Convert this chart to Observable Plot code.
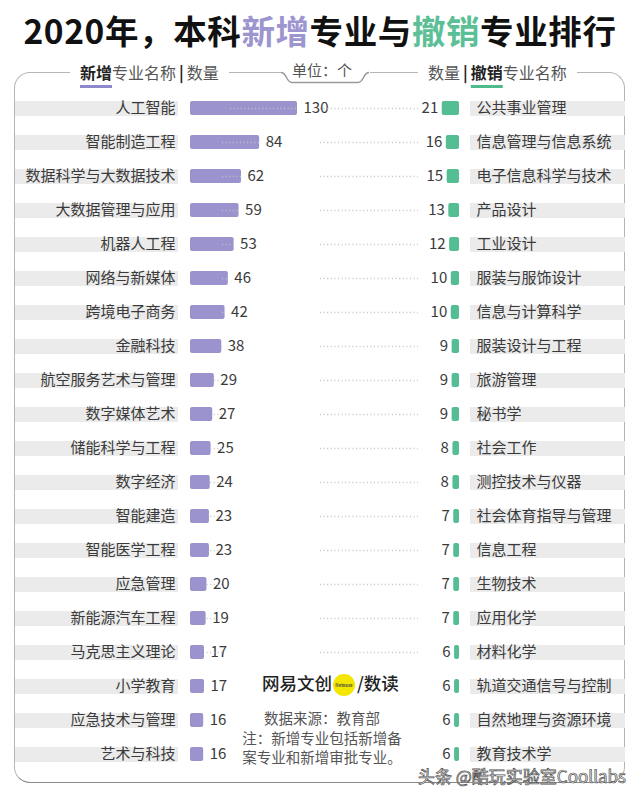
<!DOCTYPE html>
<html><head><meta charset="utf-8">
<script src="https://cdn.jsdelivr.net/npm/d3@7"></script>
<script src="https://cdn.jsdelivr.net/npm/@observablehq/plot@0.6"></script>
<style>
body{margin:0;background:#fff;font-family:"Noto Sans CJK SC","Noto Sans",sans-serif;}
#page{position:relative;width:640px;height:800px;overflow:hidden;background:#fff;}
#title{position:absolute;left:0;top:8px;width:640px;text-align:center;font-size:33.5px;font-weight:700;color:#111;letter-spacing:0.6px;line-height:44px;white-space:nowrap;}
.p{color:#9c95d0}.g{color:#5dbf96}
#frame{position:absolute;left:14px;top:72px;width:611px;height:711px;border:1.5px solid #b5b5b5;border-bottom-color:#8a8a8a;border-radius:16px;box-sizing:border-box;}
.hd{position:absolute;top:61px;height:22px;line-height:22px;font-size:16px;color:#555;background:#fff;padding:0 10px;white-space:nowrap;}
.hd b{color:#222;font-weight:700;}
.hd .bar{color:#222;font-weight:700;padding:0 3px;}
.ulp{text-decoration:underline;text-decoration-color:#8f88cc;text-decoration-thickness:3px;text-underline-offset:6px;}
.ulg{text-decoration:underline;text-decoration-color:#4fbb8c;text-decoration-thickness:3px;text-underline-offset:6px;}
#notchcover{position:absolute;left:282px;top:66px;width:88px;height:18px;background:#fff;}
#notch{position:absolute;left:0;top:0;}
#unit{position:absolute;left:290px;top:59px;width:64px;text-align:center;font-size:15px;color:#555;line-height:22px;}
#chart{position:absolute;left:0;top:89px;width:640px;height:684px;display:flex;}
#logo{position:absolute;left:262px;top:669px;font-size:17.5px;color:#222;line-height:28px;white-space:nowrap;font-weight:500;}
#logo .dot{display:inline-block;width:22px;height:22px;border-radius:11px;background:#f3e600;vertical-align:middle;font-size:4.5px;line-height:22px;text-align:center;color:#444;margin:0 2px 0 1px;}
.note{position:absolute;left:220px;width:204px;text-align:center;font-size:14.5px;color:#555;line-height:20px;white-space:nowrap;}
#wm{position:absolute;right:14px;top:763px;font-size:17px;color:#f4f4f4;-webkit-text-stroke:0.7px #505050;white-space:nowrap;}
</style>
</head><body>
<div id="page">
  <div id="title">2020年，本科<span class="p">新增</span>专业与<span class="g">撤销</span>专业排行</div>
  <div id="frame"></div>
  <div class="hd" style="left:70px;"><b class="ulp">新增</b>专业名称<span class="bar">|</span>数量</div>
  <div class="hd" style="left:418px;">数量<span class="bar">|</span><b class="ulg">撤销</b>专业名称</div>
  <div id="notchcover"></div>
  <svg id="notch" width="640" height="100"><path d="M281,72.5 C287,72.5 286,82.5 292,82.5 L358,82.5 C364,82.5 363,72.5 369,72.5" fill="none" stroke="#999" stroke-width="1.5"/></svg>
  <div id="unit">单位：个</div>
  <div id="chart"></div>
  <div id="logo">网易文创<span class="dot">Netease</span>/数读</div>
  <div class="note" style="top:708px;">数据来源：教育部</div>
  <div class="note" style="top:728px;">注：新增专业包括新增备</div>
  <div class="note" style="top:747px;">案专业和新增审批专业。</div>
  <div id="wm">头条 @酷玩实验室Coollabs</div>
</div>
<script>
const newNames = ["人工智能","智能制造工程","数据科学与大数据技术","大数据管理与应用","机器人工程","网络与新媒体","跨境电子商务","金融科技","航空服务艺术与管理","数字媒体艺术","储能科学与工程","数字经济","智能建造","智能医学工程","应急管理","新能源汽车工程","马克思主义理论","小学教育","应急技术与管理","艺术与科技"];
const newValues = [130,84,62,59,53,46,42,38,29,27,25,24,23,23,20,19,17,17,16,16];
const cutNames = ["公共事业管理","信息管理与信息系统","电子信息科学与技术","产品设计","工业设计","服装与服饰设计","信息与计算科学","服装设计与工程","旅游管理","秘书学","社会工作","测控技术与仪器","社会体育指导与管理","信息工程","生物技术","应用化学","材料化学","轨道交通信号与控制","自然地理与资源环境","教育技术学"];
const cutValues = [21,16,15,13,12,10,10,9,9,9,8,8,7,7,7,7,6,6,6,6];
const dottedRows = 17;

const FONT = '"Noto Sans CJK SC","Noto Sans",sans-serif';
const PURPLE = "#9a93ce", GREEN = "#55bd93", BAND = "#ebebeb", INK = "#3a3a3a";
const newRows = newNames.map((name, i) => ({rank: i, name, value: newValues[i]}));
const cutRows = cutNames.map((name, i) => ({rank: i, name, value: cutValues[i]}));
const yScale = {type: "band", domain: d3.range(newRows.length), padding: 0, axis: null};
const style = {fontFamily: FONT, fontSize: "15px", background: "transparent", overflow: "visible"};
const dots = {stroke: "#c4c4c4", strokeWidth: 1.3, strokeDasharray: "1 2.6"};

const left = Plot.plot({
  width: 320, height: 684, margin: 0,
  x: {domain: [0, 130], range: [190, 297], axis: null},
  y: yScale, style,
  marks: [
    Plot.ruleY(newRows, {y: "rank", stroke: BAND, strokeWidth: 15, insetLeft: 15, insetRight: 142}),
    Plot.text(newRows, {x: 0, y: "rank", text: "name", textAnchor: "end", dx: -15, fill: INK, fontSize: 15}),
    Plot.barX(newRows, {x1: 0, x2: "value", y: "rank", fill: PURPLE, insetTop: 10, insetBottom: 10, rx: 2}),
    Plot.text(newRows, {x: "value", y: "rank", text: d => String(d.value), textAnchor: "start", dx: 6, fill: INK, fontSize: 15}),
    Plot.ruleY(newRows.filter(d => d.rank < dottedRows && d.value >= 100), {x1: "value", y: "rank", insetLeft: 40, ...dots}),
    Plot.ruleY(newRows.filter(d => d.rank < dottedRows && d.value < 100), {x1: "value", y: "rank", insetLeft: 32, ...dots})
  ]
});

const right = Plot.plot({
  width: 320, height: 684, margin: 0,
  x: {domain: [0, 130], range: [139, 32], axis: null},
  y: yScale, style,
  marks: [
    Plot.ruleY(cutRows, {y: "rank", stroke: BAND, strokeWidth: 15, insetLeft: 150, insetRight: 15}),
    Plot.text(cutRows, {x: 0, y: "rank", text: "name", textAnchor: "start", dx: 17, fill: INK, fontSize: 15}),
    Plot.barX(cutRows, {x1: 0, x2: "value", y: "rank", fill: GREEN, insetTop: 10, insetBottom: 10, rx: 2}),
    Plot.text(cutRows, {x: "value", y: "rank", text: d => String(d.value), textAnchor: "end", dx: -4, fill: INK, fontSize: 15}),
    Plot.ruleY(cutRows.filter(d => d.rank < dottedRows), {y: "rank", insetRight: 222, ...dots})
  ]
});

const chart = document.getElementById("chart");
chart.appendChild(left);
chart.appendChild(right);
</script>
</body></html>
